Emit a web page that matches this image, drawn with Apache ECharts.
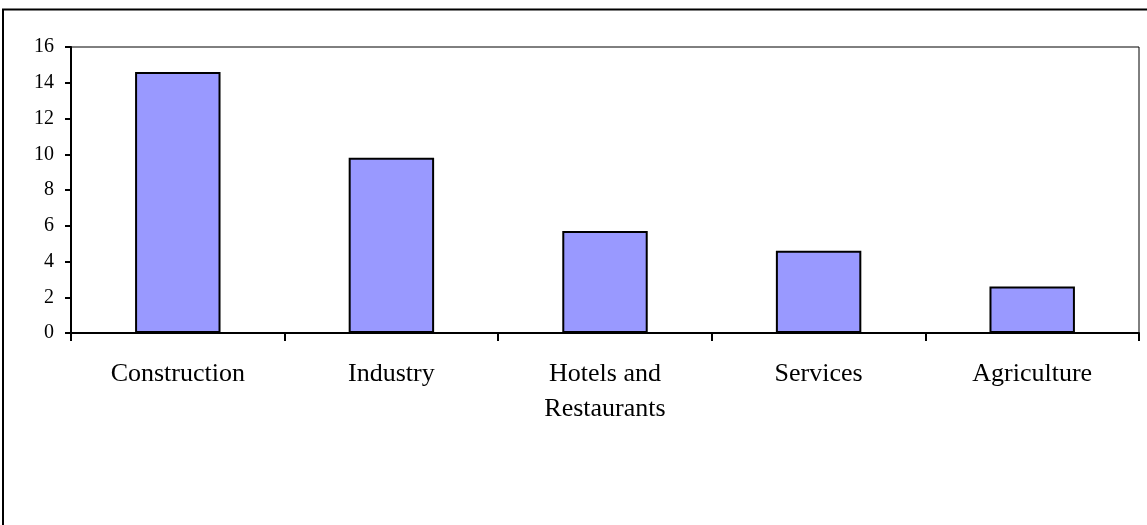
<!DOCTYPE html>
<html>
<head>
<meta charset="utf-8">
<script src="https://cdn.jsdelivr.net/npm/echarts@6/dist/echarts.min.js"></script>
<style>
html,body{margin:0;padding:0;background:#fff;}
#chart{width:1147px;height:525px;}
</style>
</head>
<body>
<div id="chart"></div>
<script>
const categories = ['Construction', 'Industry', 'Hotels and\nRestaurants', 'Services', 'Agriculture'];
const values = [14.6, 9.8, 5.7, 4.6, 2.6];
const yMin = 0, yMax = 16, yStep = 2;

const chart = echarts.init(document.getElementById('chart'), null, {renderer: 'canvas'});
chart.setOption({
  animation: false,
  backgroundColor: '#ffffff',
  graphic: [{
    type: 'rect',
    shape: {x: 3, y: 9.5, width: 1200, height: 600},
    style: {fill: 'none', stroke: '#000', lineWidth: 2},
    z: 0
  }],
  grid: {
    left: 71, right: 8, top: 47, bottom: 192,
    show: true, borderColor: '#000', borderWidth: 1, backgroundColor: 'transparent'
  },
  xAxis: {
    type: 'category',
    data: categories,
    axisLine: {lineStyle: {color: '#000', width: 2}},
    axisTick: {show: true, length: 8, lineStyle: {color: '#000', width: 2}},
    axisLabel: {
      color: '#000', fontFamily: '"Liberation Serif", "Times New Roman", serif',
      fontSize: 26, margin: 24, lineHeight: 35, interval: 0
    }
  },
  yAxis: {
    type: 'value',
    min: yMin, max: yMax, interval: yStep,
    splitLine: {show: false},
    axisLine: {show: true, lineStyle: {color: '#000', width: 2}},
    axisTick: {show: true, length: 6, lineStyle: {color: '#000', width: 2}},
    axisLabel: {
      color: '#000', fontFamily: '"Liberation Serif", "Times New Roman", serif',
      fontSize: 20, margin: 17
    }
  },
  series: [{
    type: 'bar',
    data: values,
    barWidth: '40%',
    itemStyle: {color: '#9999FF', borderColor: '#000', borderWidth: 2}
  }]
});
</script>
</body>
</html>
